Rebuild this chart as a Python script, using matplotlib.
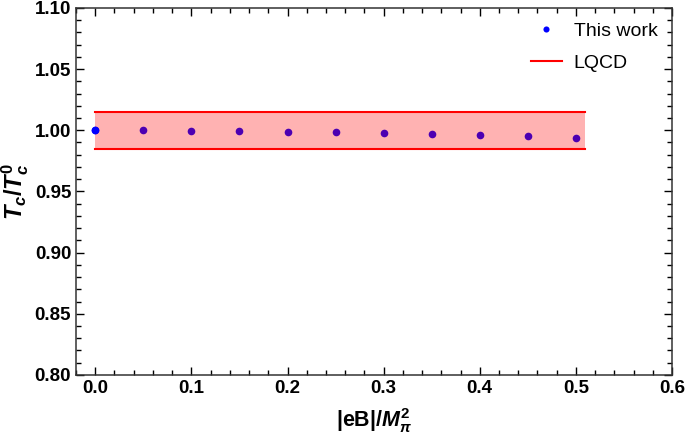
import numpy as np
import matplotlib
matplotlib.use('Agg')
import matplotlib.pyplot as plt
from matplotlib.ticker import MultipleLocator, FormatStrFormatter

# data
eB = [0.0, 0.05, 0.10, 0.15, 0.20, 0.25, 0.30, 0.35, 0.40, 0.45, 0.50]
tc_ratio = [1.000, 0.9999, 0.9997, 0.9994, 0.9989, 0.9986, 0.9978, 0.9972, 0.9961, 0.9950, 0.9936]
lqcd_x = [0.0, 0.51]
lqcd_low = [0.985, 0.985]
lqcd_high = [1.015, 1.015]

plt.rcParams['font.family'] = ['Liberation Sans', 'DejaVu Sans']
plt.rcParams['mathtext.fontset'] = 'custom'
plt.rcParams['mathtext.rm'] = 'Liberation Sans:bold'
plt.rcParams['mathtext.it'] = 'Liberation Sans:bold:italic'
plt.rcParams['mathtext.bf'] = 'Liberation Sans:bold'

fig = plt.figure(figsize=(6.85, 4.38), dpi=100)
ax = fig.add_axes([0.111, 0.144, 0.870, 0.838])

ax.plot(eB, tc_ratio, 'o', color='#0000ff', ms=5.5, mew=0, label='This work', zorder=2)
ax.fill_between(lqcd_x, lqcd_low, lqcd_high, color='red', alpha=0.3, lw=0, zorder=3)
ax.plot(lqcd_x, lqcd_high, color='red', lw=1.5, label='LQCD', zorder=4)
ax.plot(lqcd_x, lqcd_low, color='red', lw=1.5, zorder=4)
# the first point sits on the band edge and stays pure blue in the original
ax.plot(eB[:1], tc_ratio[:1], 'o', color='#0000ff', ms=5.5, mew=0, zorder=5)

ax.set_xlim(-0.02, 0.6)
ax.set_ylim(0.80, 1.10)
ax.xaxis.set_major_locator(MultipleLocator(0.1))
ax.xaxis.set_minor_locator(MultipleLocator(0.02))
ax.yaxis.set_major_locator(MultipleLocator(0.05))
ax.yaxis.set_minor_locator(MultipleLocator(0.01))
ax.xaxis.set_major_formatter(FormatStrFormatter('%.1f'))
ax.yaxis.set_major_formatter(FormatStrFormatter('%.2f'))
ax.tick_params(which='both', direction='in', top=True, right=True, width=1)
ax.tick_params(which='major', length=6, labelsize=13.5)
ax.tick_params(which='minor', length=3.5)
for lab in ax.get_xticklabels() + ax.get_yticklabels():
    lab.set_fontweight('bold')
for sp in ax.spines.values():
    sp.set_linewidth(1.1)
    sp.set_color('#333333')

ax.set_xlabel(r'|eB|/$M_{\pi}^{2}$', fontsize=15.5, fontweight='bold', labelpad=7)
ax.set_ylabel(r'$T_c/T_c^0$', fontsize=17, labelpad=3)

ax.legend(loc='upper right', frameon=False, fontsize=14, handlelength=1.6,
          labelspacing=0.75, borderaxespad=0.35, markerscale=0.8, handletextpad=0.6)

fig.savefig('out.png', dpi=100)
